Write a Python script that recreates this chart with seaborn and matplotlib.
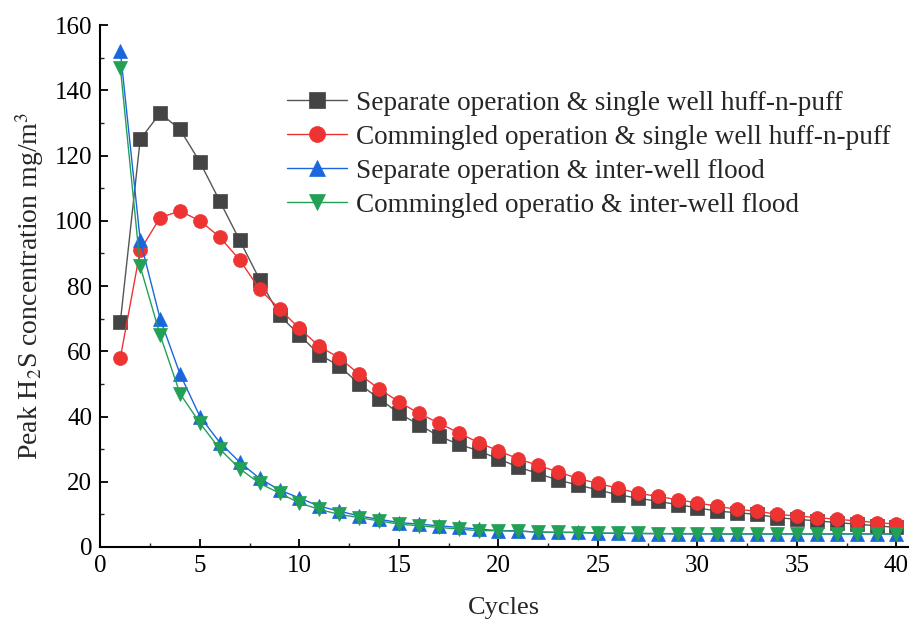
import matplotlib
matplotlib.use("Agg")
import matplotlib.pyplot as plt
import seaborn as sns
import pandas as pd
from matplotlib.ticker import MultipleLocator

cycles = list(range(1, 41))
sep_huff = [69, 125, 133, 128, 118, 106, 94, 82, 71, 65, 59, 55.5, 50, 45.5, 41, 37.5, 34, 31.5, 29.5, 27,
            24.5, 22.5, 20.5, 19, 17.5, 16, 15, 14, 13, 12, 11, 10.5, 10, 9, 8.5, 8, 7.5, 7, 6.5, 6]
com_huff = [58, 91, 101, 103, 100, 95, 88, 79, 73, 67, 61.5, 58, 53, 48.5, 44.5, 41, 38, 35, 32, 29.5,
            27, 25, 23, 21, 19.5, 18, 16.5, 15.5, 14.5, 13.5, 12.5, 11.5, 11, 10, 9.5, 9, 8.5, 8, 7.5, 7]
sep_flood = [152, 94, 70, 53, 40, 32, 26, 21, 17.5, 15, 12.5, 11, 9.5, 8.5, 7.5, 7, 6.5, 6, 5.5, 5,
             5, 4.5, 4.5, 4.5, 4.2, 4.2, 4.1, 4.1, 4, 4, 4, 4, 4, 4, 4, 4, 4, 4, 4, 4]
com_flood = [147, 86, 65, 47, 38, 30, 24, 19.5, 16.5, 13.5, 11.5, 10, 9, 8, 7, 6.5, 6, 5.5, 5, 5,
             4.8, 4.6, 4.5, 4.4, 4.3, 4.2, 4.2, 4.1, 4.1, 4.1, 4, 4, 4, 4, 4, 4, 4, 4, 4, 4]

labels = ["Separate operation & single well huff-n-puff",
          "Commingled operation & single well huff-n-puff",
          "Separate operation & inter-well flood",
          "Commingled operatio & inter-well flood"]
series = [sep_huff, com_huff, sep_flood, com_flood]
colors = ["#444444", "#ee3333", "#1a66dd", "#22a055"]
line_colors = ["#555555", "#ee3333", "#1a66dd", "#22a055"]
markers = ["s", "o", "^", "v"]

sns.set_theme(style="white")
plt.rcParams['font.family'] = ['Liberation Serif', 'DejaVu Serif']
plt.rcParams['mathtext.fontset'] = 'stix'

fig = plt.figure(figsize=(9.13, 6.28), dpi=100)
ax = fig.add_axes([0.110, 0.129, 0.885, 0.831])

for vals, lab, c, lc, m in zip(series, labels, colors, line_colors, markers):
    df = pd.DataFrame({"Cycles": cycles, "val": vals})
    sns.lineplot(data=df, x="Cycles", y="val", ax=ax, color=lc, linewidth=1.0,
                 marker=m, markersize=10, markerfacecolor=c, markeredgecolor=c,
                 markeredgewidth=0.5, label=lab)

ax.set_xlim(0, 40.6)
ax.set_ylim(0, 160)
ax.xaxis.set_major_locator(MultipleLocator(5))
ax.xaxis.set_minor_locator(MultipleLocator(2.5))
ax.yaxis.set_major_locator(MultipleLocator(20))
ax.yaxis.set_minor_locator(MultipleLocator(10))
ax.tick_params(which="major", direction="in", length=6, width=1.3, labelsize=18, colors="black",
               bottom=True, left=True, pad=6)
ax.tick_params(which="minor", direction="in", length=3, width=1.0, bottom=True, left=True)
for s in ["top", "right"]:
    ax.spines[s].set_visible(False)
for s in ["left", "bottom"]:
    ax.spines[s].set_color("black")
    ax.spines[s].set_linewidth(1.5)

ax.set_xlabel("Cycles", fontsize=19, labelpad=14)
ax.set_ylabel(r"Peak H$_2$S concentration mg/m$^3$", fontsize=20, labelpad=6)

leg = ax.legend(loc="upper left", bbox_to_anchor=(0.218, 0.895), frameon=False, fontsize=19.6,
                handlelength=2.2, handletextpad=0.3, labelspacing=0.33, borderaxespad=0,
                markerscale=1.15)

fig.savefig("out.png", dpi=100)
